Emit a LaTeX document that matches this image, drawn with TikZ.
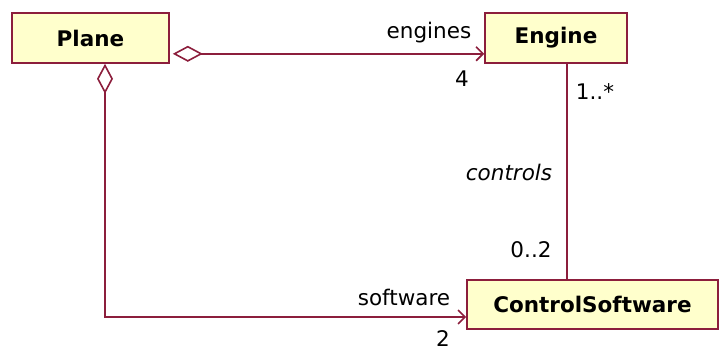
\documentclass[tikz,border=0pt]{standalone}
\usepackage{fontspec}
\setmainfont{DejaVu Sans}
\usetikzlibrary{arrows.meta}
\definecolor{umlline}{RGB}{140,30,60}
\definecolor{umlfill}{RGB}{255,255,204}
\tikzset{
  cls/.style={draw=umlline, fill=umlfill, line width=1.6pt, inner sep=0pt,
    font=\fontsize{21.5}{24}\selectfont\bfseries},
  assoc/.style={draw=umlline, line width=1.6pt},
  lbl/.style={inner sep=0pt, font=\fontsize{21.5}{24}\selectfont},
  agg/.style={{Diamond[open,length=30pt,width=16pt]}-{Straight Barb[length=7pt,width=14pt]}}
}
\begin{document}
\begin{tikzpicture}[x=1pt,y=-1pt]
\useasboundingbox (0,0) rectangle (720,351);
\node[cls, minimum width=157pt, minimum height=50pt] (plane) at (90.5,38) {Plane};
\node[cls, minimum width=142pt, minimum height=50pt] (engine) at (556,38) {Engine};
\node[cls, minimum width=251pt, minimum height=49pt] (cs) at (592.5,304.5) {ControlSoftware};
% Plane -> Engine
\path (plane.south east) ++(3,-10) coordinate (pe);
\draw[assoc, agg] (pe) -- (pe -| engine.west);
% Plane -> ControlSoftware
\coordinate (ps) at ([xshift=14.5pt]plane.south);
\draw[assoc, agg] (ps) |- ([yshift=-12.5pt]cs.west);
% Engine -- ControlSoftware
\coordinate (es) at ([xshift=11pt]engine.south);
\draw[assoc] (es) -- (es |- cs.north);
% labels
\node[lbl] (l1) at (429,33) {engines};
\node[lbl] (l2) at (462,79) {4};
\node[lbl] (l3) at (595,92) {1..*};
\node[lbl, font=\fontsize{21.5}{24}\selectfont\itshape] (l4) at (509,172) {controls};
\node[lbl] (l5) at (531,250) {0..2};
\node[lbl] (l6) at (404,297) {software};
\node[lbl] (l7) at (443,339) {2};
\end{tikzpicture}
\end{document}
